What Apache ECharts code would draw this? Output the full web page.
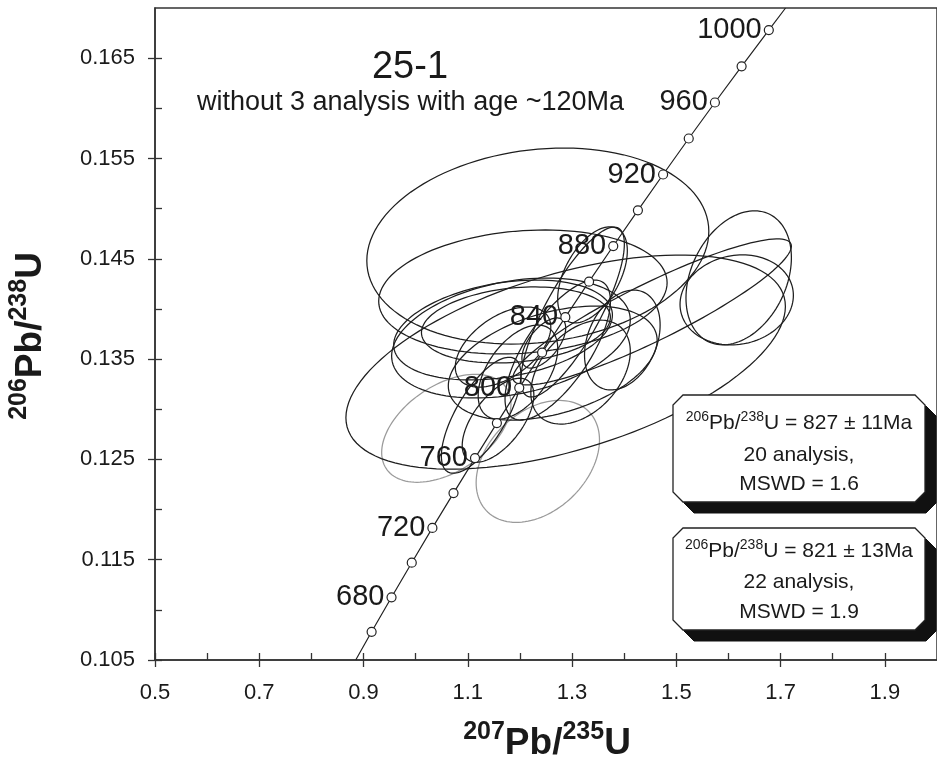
<!DOCTYPE html>
<html><head><meta charset="utf-8">
<script src="https://cdn.jsdelivr.net/npm/echarts@6/dist/echarts.min.js"></script>
<style>html,body{margin:0;padding:0;background:#fff}#c{width:937px;height:770px}</style>
</head><body><div id="c"></div>
<script>
// ---- tick labels ----
const xTickLabels = [0.5, 0.7, 0.9, 1.1, 1.3, 1.5, 1.7, 1.9];
const xMinorTicks = [0.6, 0.8, 1.0, 1.2, 1.4, 1.6, 1.8];
const yTickLabels = [0.105, 0.115, 0.125, 0.135, 0.145, 0.155, 0.165];
const yMinorTicks = [0.110, 0.120, 0.130, 0.140, 0.150, 0.160];

// ---- concordia markers (age in Ma, 207Pb/235U, 206Pb/238U) ----
const concAge = [660, 680, 700, 720, 740, 760, 780, 800, 820, 840, 860, 880, 900, 920, 940, 960, 980, 1000];
const concX = [0.9155, 0.9537, 0.9925, 1.0321, 1.0726, 1.1138, 1.1558, 1.1987, 1.2425, 1.2871, 1.3326, 1.3790, 1.4263, 1.4746, 1.5238, 1.5740, 1.6252, 1.6774];
const concY = [0.10781, 0.11125, 0.11470, 0.11817, 0.12164, 0.12513, 0.12862, 0.13213, 0.13565, 0.13918, 0.14272, 0.14627, 0.14983, 0.15340, 0.15699, 0.16058, 0.16419, 0.16780];
// where the concordia line meets the frame
const concStart = [0.885, 0.105];
const concEnd = [1.7095, 0.170];

// ---- error ellipses: centre, half-range in x, half-range in y, correlation ----
const ellX   = [1.2343, 1.2877, 1.2057, 1.1676, 1.1923, 1.1676, 1.3011, 1.2725, 1.2458, 1.1256, 1.158, 1.1962, 1.4537, 1.6196, 1.6158, 1.3964, 1.3163, 1.2629, 1.3392, 1.1828];
const ellY   = [0.14627, 0.1347, 0.14169, 0.1379, 0.1384, 0.1362, 0.13969, 0.1359, 0.1366, 0.1294, 0.1289, 0.1337, 0.1397, 0.1431, 0.1409, 0.1369, 0.1337, 0.1346, 0.1434, 0.1371];
const ellDX  = [0.328, 0.4215, 0.2766, 0.2098, 0.1812, 0.0916, 0.0992, 0.1011, 0.042, 0.0763, 0.0687, 0.0763, 0.267, 0.1011, 0.1087, 0.0725, 0.0954, 0.2003, 0.0668, 0.2289];
const ellDY  = [0.00977, 0.01067, 0.00618, 0.00498, 0.00379, 0.00399, 0.00847, 0.00698, 0.0025, 0.00578, 0.00419, 0.00469, 0.00728, 0.00668, 0.00449, 0.00498, 0.00518, 0.00568, 0.00479, 0.00598];
const ellRho = [0.15, 0.52, 0.15, 0.3, 0.2, 0.5, 0.8, 0.7, 0.6, 0.7, 0.6, 0.5, 0.9, 0.3, 0.1, 0.3, 0.4, 0.4, 0.5, 0.3];
// excluded (grey) analyses
const grayX   = [1.0588, 1.2343];
const grayY   = [0.1281, 0.1248];
const grayDX  = [0.124, 0.1183];
const grayDY  = [0.00538, 0.00608];
const grayRho = [0.45, 0.35];

const FONT = '"Liberation Sans", Arial, Helvetica, sans-serif';
const AX = '#333';

function ellData(xs, ys, dxs, dys, rs) {
  return xs.map((v, i) => [v, ys[i], dxs[i], dys[i], rs[i]]);
}
function ellipseRenderer(color) {
  return function (params, api) {
    const cx = api.value(0), cy = api.value(1), dx = api.value(2), dy = api.value(3), r = api.value(4);
    const s = Math.sqrt(1 - r * r);
    const pts = [];
    const N = 120;
    for (let i = 0; i < N; i++) {
      const t = i / N * Math.PI * 2;
      pts.push(api.coord([cx + dx * Math.cos(t), cy + dy * (r * Math.cos(t) + s * Math.sin(t))]));
    }
    return { type: 'polygon', shape: { points: pts }, style: { fill: 'none', stroke: color, lineWidth: 1.25 } };
  };
}

const lineData = [concStart].concat(concX.map((v, i) => [v, concY[i]])).concat([concEnd]);
const markerData = concX.map((v, i) => [v, concY[i], concAge[i]]);

function box(l, t, r, b, c) {
  return [[l + c, t], [r - c, t], [r, t + c], [r, b - c], [r - c, b], [l + c, b], [l, b - c], [l, t + c]];
}
function shift(pts, d) { return pts.map(p => [p[0] + d, p[1] + d]); }

const box1 = box(673, 395, 925, 502, 10);
const box2 = box(673, 528, 925, 630, 10);

const boxRich = {
  n: { fontSize: 21, fontFamily: FONT, fill: '#1a1a1a', lineHeight: 26 },
  s: { fontSize: 14, fontFamily: FONT, fill: '#1a1a1a', lineHeight: 14, verticalAlign: 'top' }
};
const titleRich = {
  n: { fontSize: 37, fontFamily: FONT, fontWeight: 'bold', fill: '#1a1a1a', lineHeight: 48 },
  s: { fontSize: 25, fontFamily: FONT, fontWeight: 'bold', fill: '#1a1a1a', lineHeight: 25, verticalAlign: 'top' }
};
function txt(x, y, text, rich, extra) {
  return Object.assign({
    type: 'text', x: x, y: y, z: 100,
    style: { text: text, rich: rich, align: 'center', verticalAlign: 'middle' }
  }, extra || {});
}
function plain(x, y, text, size, align) {
  return {
    type: 'text', x: x, y: y, z: 100,
    style: { text: text, fontSize: size, fontFamily: FONT, fill: '#1a1a1a', align: align || 'center', verticalAlign: 'middle' }
  };
}

const chart = echarts.init(document.getElementById('c'), null, { renderer: 'canvas' });
chart.setOption({
  animation: false,
  backgroundColor: '#fff',
  grid: { left: 155, top: 8, right: -4, bottom: 110, show: true, borderColor: AX, borderWidth: 1.5, backgroundColor: 'transparent' },
  xAxis: [
    {
      type: 'value', min: 0.5, max: 2.0, position: 'bottom',
      axisLine: { show: true, lineStyle: { color: AX, width: 1.5 } },
      axisTick: { show: true, inside: true, length: 7, customValues: xTickLabels.concat(xMinorTicks), lineStyle: { color: AX, width: 1.3 } },
      axisLabel: { show: true, customValues: xTickLabels, formatter: v => v.toFixed(1), fontSize: 22, fontFamily: FONT, color: '#1a1a1a', margin: 22 },
      splitLine: { show: false }
    },
    {
      type: 'value', min: 0.5, max: 2.0, position: 'bottom',
      axisLine: { show: false },
      axisTick: { show: true, inside: false, length: 7, customValues: xTickLabels, lineStyle: { color: AX, width: 1.3 } },
      axisLabel: { show: false },
      splitLine: { show: false }
    }
  ],
  yAxis: [
    {
      type: 'value', min: 0.105, max: 0.170, position: 'left',
      axisLine: { show: true, lineStyle: { color: AX, width: 1.5 } },
      axisTick: { show: true, inside: true, length: 7, customValues: yTickLabels.concat(yMinorTicks), lineStyle: { color: AX, width: 1.3 } },
      axisLabel: { show: true, customValues: yTickLabels, formatter: v => v.toFixed(3), fontSize: 22, fontFamily: FONT, color: '#1a1a1a', margin: 20 },
      splitLine: { show: false }
    },
    {
      type: 'value', min: 0.105, max: 0.170, position: 'left',
      axisLine: { show: false },
      axisTick: { show: true, inside: false, length: 7, customValues: yTickLabels, lineStyle: { color: AX, width: 1.3 } },
      axisLabel: { show: false },
      splitLine: { show: false }
    }
  ],
  series: [
    {
      type: 'custom', name: 'excluded', renderItem: ellipseRenderer('#9a9a9a'),
      data: ellData(grayX, grayY, grayDX, grayDY, grayRho), encode: { x: 0, y: 1 }, z: 2, silent: true
    },
    {
      type: 'custom', name: 'analyses', renderItem: ellipseRenderer('#1e1e1e'),
      data: ellData(ellX, ellY, ellDX, ellDY, ellRho), encode: { x: 0, y: 1 }, z: 3, silent: true
    },
    {
      type: 'line', name: 'concordia', data: lineData, showSymbol: false, symbol: 'none',
      lineStyle: { color: '#222', width: 1.2 }, z: 5, silent: true
    },
    {
      type: 'scatter', name: 'ages', data: markerData, symbol: 'circle', symbolSize: 9,
      itemStyle: { color: '#fff', borderColor: '#222', borderWidth: 1.2, opacity: 1 },
      label: {
        show: true, position: 'left', distance: 2, fontSize: 29, fontFamily: FONT, color: '#1a1a1a',
        formatter: p => (p.value[2] % 40 === 0 ? String(p.value[2]) : '')
      },
      z: 6, silent: true
    }
  ],
  graphic: [
    { type: 'polygon', z: 90, shape: { points: shift(box1, 11) }, style: { fill: '#111', stroke: '#111' } },
    { type: 'polygon', z: 91, shape: { points: box1 }, style: { fill: '#fff', stroke: '#222', lineWidth: 1.3 } },
    { type: 'polygon', z: 90, shape: { points: shift(box2, 11) }, style: { fill: '#111', stroke: '#111' } },
    { type: 'polygon', z: 91, shape: { points: box2 }, style: { fill: '#fff', stroke: '#222', lineWidth: 1.3 } },
    txt(799, 423, '{s|206}{n|Pb/}{s|238}{n|U = 827 ± 11Ma}', boxRich),
    plain(799, 455, '20 analysis,', 21),
    plain(799, 484, 'MSWD = 1.6', 21),
    txt(799, 551, '{s|206}{n|Pb/}{s|238}{n|U = 821 ± 13Ma}', boxRich),
    plain(799, 582, '22 analysis,', 21),
    plain(799, 612, 'MSWD = 1.9', 21),
    plain(410, 68, '25-1', 38),
    plain(197, 103, 'without 3 analysis with age ~120Ma', 27, 'left'),
    txt(547, 744, '{s|207}{n|Pb/}{s|235}{n|U}', titleRich),
    txt(31, 336, '{s|206}{n|Pb/}{s|238}{n|U}', titleRich, { rotation: Math.PI / 2 })
  ]
});
</script>
</body></html>
